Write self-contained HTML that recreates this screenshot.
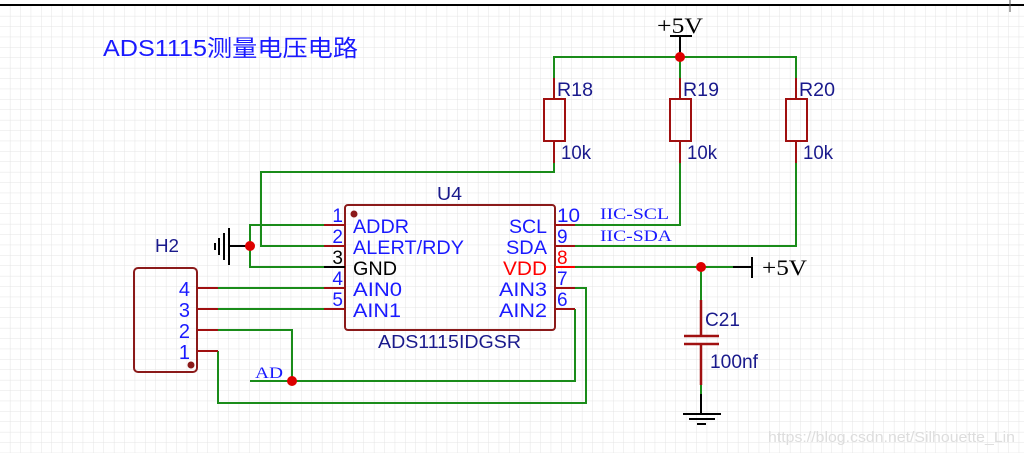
<!DOCTYPE html>
<html><head><meta charset="utf-8"><style>
html,body{margin:0;padding:0;background:#fff;}
svg{display:block}
text{font-family:"Liberation Sans","Noto Sans CJK SC",sans-serif;}
.s{font-family:"Liberation Serif",serif;}
</style></head><body>
<svg width="1024" height="453" viewBox="0 0 1024 453" xmlns="http://www.w3.org/2000/svg">
<defs>
<pattern id="g" x="0" y="6" width="10.4" height="10.4" patternUnits="userSpaceOnUse">
<path d="M10.4 0V10.4M0 10.4H10.4" stroke="#e4e4e4" stroke-width="1" fill="none"/>
</pattern>
</defs>
<rect width="1024" height="453" fill="#fff"/>
<rect y="6" width="1024" height="447" fill="url(#g)"/>
<line x1="0" y1="5" x2="1024" y2="5" stroke="#000" stroke-width="2"/>
<line x1="1010" y1="0" x2="1010" y2="12" stroke="#555" stroke-width="1"/>

<text x="103" y="56" font-size="23" fill="#1a1aff" textLength="255" lengthAdjust="spacingAndGlyphs">ADS1115测量电压电路</text>

<!-- top +5V -->
<text class="s" x="657" y="33" font-size="22" fill="#000" textLength="46" lengthAdjust="spacingAndGlyphs">+5V</text>
<line x1="670" y1="36" x2="692" y2="36" stroke="#000" stroke-width="2"/>
<line x1="680" y1="36" x2="680" y2="57" stroke="#000" stroke-width="2"/>
<g fill="none" stroke="#1a8c1a" stroke-width="2">
<path d="M554 78V57H796V78"/>
<path d="M680 57V78"/>
<path d="M554 163V172H261V246H324"/>
<path d="M680 163V225H575"/>
<path d="M796 163V246H575"/>
<path d="M250 246V225H324M250 246V267H324"/>
<path d="M218 288H324M218 309H324"/>
<path d="M218 330H292V381M250 381H575V309"/>
<path d="M218 351V403H586V288H575"/>
<path d="M575 267H733"/>
<path d="M701 267V300M701 385V394"/>
</g>
<circle cx="680" cy="57" r="5" fill="#d00"/>
<!-- resistors -->
<g fill="none" stroke="#a01010" stroke-width="2">
<path d="M554 78V99M554 141V163M680 78V99M680 141V163M796 78V99M796 141V163"/>
<rect x="544" y="99" width="21" height="42"/>
<rect x="670" y="99" width="21" height="42"/>
<rect x="786" y="99" width="21" height="42"/>
</g>
<g font-size="19" fill="#1a1a8c">
<text x="557" y="96" textLength="36" lengthAdjust="spacingAndGlyphs">R18</text>
<text x="683" y="96" textLength="36" lengthAdjust="spacingAndGlyphs">R19</text>
<text x="799" y="96" textLength="36" lengthAdjust="spacingAndGlyphs">R20</text>
<text x="561" y="159" textLength="30" lengthAdjust="spacingAndGlyphs">10k</text>
<text x="687" y="159" textLength="30" lengthAdjust="spacingAndGlyphs">10k</text>
<text x="803" y="159" textLength="30" lengthAdjust="spacingAndGlyphs">10k</text>
</g>

<!-- chip -->
<rect x="345" y="205" width="210" height="125" rx="3" fill="none" stroke="#8b1a1a" stroke-width="2"/>
<circle cx="354" cy="214" r="3.5" fill="#8b1a1a"/>
<g stroke="#a01010" stroke-width="2">
<line x1="324" y1="225" x2="345" y2="225"/><line x1="324" y1="246" x2="345" y2="246"/>
<line x1="324" y1="288" x2="345" y2="288"/><line x1="324" y1="309" x2="345" y2="309"/>
<line x1="555" y1="225" x2="575" y2="225"/><line x1="555" y1="246" x2="575" y2="246"/>
<line x1="555" y1="288" x2="575" y2="288"/><line x1="555" y1="309" x2="575" y2="309"/>
</g>
<line x1="324" y1="267" x2="345" y2="267" stroke="#000" stroke-width="2"/>
<line x1="555" y1="267" x2="575" y2="267" stroke="#f00" stroke-width="2"/>
<text x="437" y="200" font-size="18" fill="#1a1a8c" textLength="25" lengthAdjust="spacingAndGlyphs">U4</text>
<text x="378" y="348" font-size="18" fill="#1a1a8c" textLength="143" lengthAdjust="spacingAndGlyphs">ADS1115IDGSR</text>
<g font-size="19" fill="#1a1aff">
<text x="343" y="222" text-anchor="end">1</text>
<text x="343" y="243" text-anchor="end">2</text>
<text x="343" y="264" text-anchor="end" fill="#000">3</text>
<text x="343" y="285" text-anchor="end">4</text>
<text x="343" y="306" text-anchor="end">5</text>
<text x="353" y="233" textLength="56" lengthAdjust="spacingAndGlyphs">ADDR</text>
<text x="353" y="254" textLength="111" lengthAdjust="spacingAndGlyphs">ALERT/RDY</text>
<text x="353" y="275" fill="#000" textLength="44" lengthAdjust="spacingAndGlyphs">GND</text>
<text x="353" y="296" textLength="49" lengthAdjust="spacingAndGlyphs">AIN0</text>
<text x="353" y="317" textLength="48" lengthAdjust="spacingAndGlyphs">AIN1</text>
<text x="509" y="233" textLength="38" lengthAdjust="spacingAndGlyphs">SCL</text>
<text x="506" y="254" textLength="41" lengthAdjust="spacingAndGlyphs">SDA</text>
<text x="503" y="275" fill="#f00" textLength="44" lengthAdjust="spacingAndGlyphs">VDD</text>
<text x="499" y="296" textLength="48" lengthAdjust="spacingAndGlyphs">AIN3</text>
<text x="499" y="317" textLength="48" lengthAdjust="spacingAndGlyphs">AIN2</text>
<text x="557" y="222" textLength="23" lengthAdjust="spacingAndGlyphs">10</text>
<text x="557" y="243">9</text>
<text x="557" y="264" fill="#f00">8</text>
<text x="557" y="285">7</text>
<text x="557" y="306">6</text>
</g>
<g font-size="16" fill="#1a1aff">
<text class="s" x="600" y="219" textLength="69" lengthAdjust="spacingAndGlyphs">IIC-SCL</text>
<text class="s" x="600" y="241" textLength="72" lengthAdjust="spacingAndGlyphs">IIC-SDA</text>
<text class="s" x="255" y="378" textLength="28" lengthAdjust="spacingAndGlyphs">AD</text>
</g>

<!-- left ground -->
<line x1="229" y1="246" x2="250" y2="246" stroke="#000" stroke-width="2"/>
<g stroke="#000" stroke-width="2">
<line x1="229" y1="228" x2="229" y2="265"/>
<line x1="224" y1="233" x2="224" y2="260"/>
<line x1="219" y1="238" x2="219" y2="255"/>
<line x1="215" y1="243" x2="215" y2="250"/>
</g>
<circle cx="250" cy="246" r="5" fill="#d00"/>

<!-- H2 -->
<text x="155" y="252" font-size="18" fill="#1a1a8c" textLength="24" lengthAdjust="spacingAndGlyphs">H2</text>
<rect x="134" y="268" width="63" height="104" rx="4" fill="none" stroke="#8b1a1a" stroke-width="2"/>
<circle cx="191" cy="365" r="3.5" fill="#8b1a1a"/>
<g stroke="#a01010" stroke-width="2">
<line x1="197" y1="288" x2="218" y2="288"/><line x1="197" y1="309" x2="218" y2="309"/>
<line x1="197" y1="330" x2="218" y2="330"/><line x1="197" y1="351" x2="218" y2="351"/>
</g>
<g font-size="20" fill="#1a1aff" text-anchor="end">
<text x="190" y="296">4</text><text x="190" y="317">3</text><text x="190" y="338">2</text><text x="190" y="359">1</text>
</g>
<circle cx="292" cy="381" r="5" fill="#d00"/>

<!-- VDD +5V -->
<circle cx="701" cy="267" r="5" fill="#d00"/>
<line x1="733" y1="267" x2="752" y2="267" stroke="#000" stroke-width="2"/>
<line x1="752" y1="257" x2="752" y2="278" stroke="#000" stroke-width="2"/>
<text class="s" x="762" y="275" font-size="22" fill="#000" textLength="45" lengthAdjust="spacingAndGlyphs">+5V</text>

<!-- C21 -->
<g stroke="#a01010" stroke-width="2.5">
<line x1="701" y1="300" x2="701" y2="336"/>
<line x1="701" y1="344" x2="701" y2="385"/>
<line x1="684" y1="336" x2="719" y2="336"/>
<line x1="684" y1="344" x2="719" y2="344"/>
</g>
<text x="705" y="326" font-size="19" fill="#1a1a8c" textLength="35" lengthAdjust="spacingAndGlyphs">C21</text>
<text x="710" y="368" font-size="19" fill="#1a1a8c" textLength="48" lengthAdjust="spacingAndGlyphs">100nf</text>
<g stroke="#000" stroke-width="2">
<line x1="701" y1="394" x2="701" y2="414"/>
<line x1="683" y1="414" x2="721" y2="414"/>
<line x1="689" y1="419" x2="715" y2="419"/>
<line x1="697" y1="424" x2="706" y2="424"/>
</g>

<text x="768" y="442" font-size="15" fill="#ddd" textLength="247" lengthAdjust="spacingAndGlyphs">https://blog.csdn.net/Silhouette_Lin</text>
</svg>
</body></html>
